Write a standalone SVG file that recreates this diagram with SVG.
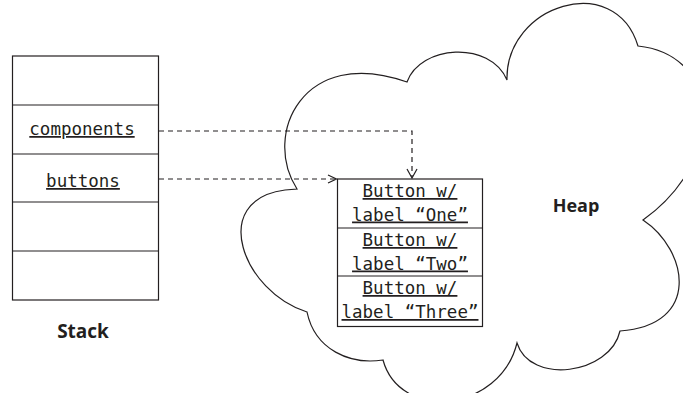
<svg xmlns="http://www.w3.org/2000/svg" width="683" height="393" viewBox="0 0 683 393">
  <style>
    .frame { fill: #ffffff; stroke: #231f20; stroke-width: 1.2; }
    .rule { stroke: #231f20; stroke-width: 1.2; fill: none; }
    .cloud { fill: #ffffff; stroke: #231f20; stroke-width: 1.2; stroke-linejoin: miter; }
    .mono { font-family: "DejaVu Sans Mono", "Liberation Mono", monospace; font-size: 17.5px; fill: #231f20; text-anchor: middle; text-decoration: underline; }
    .title { font-family: "Open Sans", "Liberation Sans", sans-serif; font-weight: 700; font-size: 18px; fill: #231f20; text-anchor: middle; }
    .link { fill: none; stroke: #231f20; stroke-width: 1.2; stroke-dasharray: 5 4; }
    .head { fill: none; stroke: #231f20; stroke-width: 1.2; }
  </style>

  <!-- heap cloud -->
  <g id="heap">
    <path class="cloud" d="M507,80 C505,5 615,-30 638,46 C722,55 727,160 643,220 C688,250 702,325 620,331 C610,375 530,385 517,343 C500,412 400,422 383,360 C350,365 315,350 307,312 C243,292 208,200 285,190 L297,189 C262,135 303,45 407,82 C420,45 490,40 507,80 Z"/>
    <text class="title" x="576" y="212">Heap</text>
  </g>

  <!-- stack of slots -->
  <g id="stack">
    <rect class="frame" x="12.5" y="56" width="146" height="244"/>
    <line class="rule" x1="12.5" y1="105" x2="158.5" y2="105"/>
    <line class="rule" x1="12.5" y1="154" x2="158.5" y2="154"/>
    <line class="rule" x1="12.5" y1="202" x2="158.5" y2="202"/>
    <line class="rule" x1="12.5" y1="251" x2="158.5" y2="251"/>
    <text class="mono" x="82" y="135">components</text>
    <text class="mono" x="83" y="187">buttons</text>
    <text class="title" x="83" y="338" style="font-size:19px">Stack</text>
  </g>

  <!-- array of buttons on the heap -->
  <g id="buttons-array">
    <rect class="frame" x="337.5" y="179" width="145" height="147.5"/>
    <line class="rule" x1="337.5" y1="228" x2="482.5" y2="228"/>
    <line class="rule" x1="337.5" y1="276" x2="482.5" y2="276"/>
    <text class="mono" x="410" y="197">Button w/</text>
    <text class="mono" x="410" y="220.5">label “One”</text>
    <text class="mono" x="410" y="246">Button w/</text>
    <text class="mono" x="410" y="269.5">label “Two”</text>
    <text class="mono" x="410" y="294">Button w/</text>
    <text class="mono" x="410" y="318">label “Three”</text>
  </g>

  <!-- references from stack slots -->
  <g id="connectors">
    <polyline class="link" points="159,131 412,131 412,177"/>
    <polyline class="head" points="407,169 412,178 417,169"/>
    <line class="link" x1="159" y1="179" x2="335" y2="179"/>
    <polyline class="head" points="328,175 336.5,179 328,183"/>
  </g>
</svg>
